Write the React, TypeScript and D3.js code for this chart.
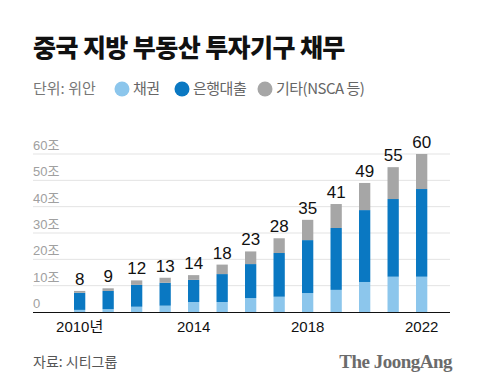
import { scaleBand, scaleLinear, stack } from "d3"

const years = ["2010", "2011", "2012", "2013", "2014", "2015", "2016", "2017", "2018", "2019", "2020", "2021", "2022"]
const bonds = [0.8, 1.1, 2.0, 2.4, 3.8, 3.8, 5.3, 5.8, 7.2, 8.4, 11.4, 13.4, 13.4]
const bankLoans = [6.5, 6.9, 8.3, 8.7, 8.4, 10.6, 12.9, 16.6, 20.1, 23.5, 27.3, 29.5, 33.3]
const others = [0.7, 1.0, 1.7, 1.9, 1.8, 3.6, 4.8, 5.6, 7.7, 9.1, 10.3, 12.1, 13.3]
const totals = [8, 9, 12, 13, 14, 18, 23, 28, 35, 41, 49, 55, 60]
const yTicks = [0, 10, 20, 30, 40, 50, 60]
const xLabels: Record<string, string> = { "2010": "2010년", "2014": "2014", "2018": "2018", "2022": "2022" }

const seriesKeys = ["bonds", "bank", "other"]
const colors: Record<string, string> = { bonds: "#8cc6ec", bank: "#0a78c2", other: "#a6a6a6" }
const legend = [
  { key: "bonds", label: "채권" },
  { key: "bank", label: "은행대출" },
  { key: "other", label: "기타(NSCA 등)" },
]

const font = "'Noto Sans CJK KR', 'Noto Sans', sans-serif"
const numFont = "'Liberation Sans', 'Noto Sans CJK KR', sans-serif"

const App = () => {
  const width = 480
  const height = 391
  const left = 33
  const right = 450

  const table = years.map((y, i) => ({ year: y, bonds: bonds[i], bank: bankLoans[i], other: others[i] }))
  const stacked = stack<any>().keys(seriesKeys)(table)

  const x = scaleBand().domain(years).range([74, 427.3]).paddingInner(0.604).paddingOuter(0)
  const y = scaleLinear().domain([0, 60]).range([312, 154])

  return (
    <svg width={width} height={height} style={{ position: "absolute", left: 0, top: 0, background: "#fff" }} fontFamily={font}>
      <text x={left} y={57} fontSize={25} fontWeight={900} fill="#111" letterSpacing={-0.6}>중국 지방 부동산 투자기구 채무</text>

      <text x={left} y={94} fontSize={15} fill="#777">단위: 위안</text>
      {legend.map((l, i) => {
        const cx = [122, 182, 265][i]
        return (
          <g key={l.key}>
            <circle cx={cx} cy={89} r={7.5} fill={colors[l.key]} />
            <text x={cx + 11} y={94} fontSize={15} fill="#666" letterSpacing={-0.5}>{l.label}</text>
          </g>
        )
      })}

      {yTicks.map(t => (
        <g key={t}>
          {t > 0 && <line x1={left} x2={right} y1={y(t)} y2={y(t)} stroke="#e3e3e3" strokeWidth={1} />}
          <text x={left} y={y(t) - 4} fontSize={13} fill="#a0a0a0" fontFamily={numFont}>{t === 0 ? "0" : `${t}조`}</text>
        </g>
      ))}

      {stacked.map(s => (
        <g key={s.key} fill={colors[s.key]}>
          {s.map((d, i) => (
            <rect key={years[i]} x={x(years[i])} y={y(d[1])} width={x.bandwidth()} height={y(d[0]) - y(d[1])} />
          ))}
        </g>
      ))}

      {years.map((yr, i) => (
        <text key={yr} x={(x(yr) ?? 0) + x.bandwidth() / 2} y={y(totals[i]) - 6} fontSize={17} fill="#111" textAnchor="middle" fontFamily={numFont}>
          {totals[i]}
        </text>
      ))}

      <line x1={left} x2={right} y1={312.5} y2={312.5} stroke="#111" strokeWidth={1.2} />

      {years.filter(yr => xLabels[yr]).map(yr => (
        <text key={yr} x={(x(yr) ?? 0) + x.bandwidth() / 2} y={332} fontSize={15} fill="#111" textAnchor="middle" fontFamily={numFont}>
          {xLabels[yr]}
        </text>
      ))}

      <text x={left} y={367} fontSize={14} fill="#555">자료: 시티그룹</text>
      <text x={452} y={368} fontSize={19} fontWeight={700} fill="#6b6b6b" textAnchor="end" fontFamily="'Liberation Serif', serif" letterSpacing={-0.5}>The JoongAng</text>
    </svg>
  )
}

export default App
